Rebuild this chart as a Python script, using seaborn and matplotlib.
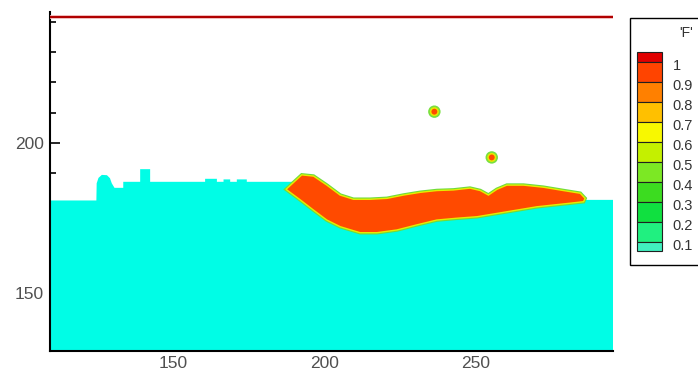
import matplotlib
matplotlib.use('Agg')
import matplotlib.pyplot as plt
import matplotlib.patheffects as pe
from matplotlib.patches import Rectangle
import seaborn as sns

sns.set_style('ticks')
plt.rcParams['font.family'] = ['Liberation Sans', 'DejaVu Sans']

# liquid surface (top of the cyan region)
surface_x = [109.3, 124.5, 124.6, 125.2, 126.3, 128.0, 129.0, 129.6, 130.5, 133.4, 133.4, 139.0, 139.0,
             142.3, 142.3, 160.5, 160.5, 164.4, 164.4, 166.6, 166.6, 168.8, 168.8, 171.0, 171.0, 174.3,
             174.3, 189.5, 191.0, 200.0, 210.0, 225.0, 240.0, 260.0, 280.0, 286.0, 295.7]
surface_y = [180.8, 180.8, 186.5, 188.3, 189.3, 189.2, 188.2, 186.5, 185.0, 185.0, 187.0, 187.0, 191.2,
             191.2, 187.0, 187.0, 188.0, 188.0, 187.0, 187.0, 187.8, 187.8, 187.0, 187.0, 187.8, 187.8,
             187.0, 187.0, 183.0, 179.0, 176.0, 176.0, 178.0, 180.0, 181.0, 181.0, 181.0]

# outline of the F~1 slug (orange blob)
blob_x = [187.3, 192.5, 196.4, 200.8, 205.2, 209.6, 215.1, 220.7, 226.2, 231.7, 237.2, 242.7, 248.2,
          251.6, 254.3, 257.1, 260.4, 265.9, 272.5, 279.1, 284.7, 286.3, 285.8, 281.4, 275.8, 270.3,
          263.7, 257.1, 250.5, 243.8, 237.2, 230.6, 224.0, 217.4, 211.8, 205.2, 200.8, 196.4, 192.0]
blob_y = [184.5, 189.3, 188.9, 185.9, 182.6, 181.2, 181.2, 181.5, 182.6, 183.5, 184.1, 184.3, 184.9,
          184.1, 182.6, 184.5, 185.9, 185.9, 185.2, 184.1, 183.2, 181.5, 180.4, 179.9, 179.3, 178.7,
          177.6, 176.5, 175.4, 174.9, 174.3, 172.7, 171.0, 170.1, 170.1, 172.1, 174.3, 177.6, 181.0]

# droplets
drop_x = [236.4, 255.4]
drop_y = [210.3, 195.1]

# lid line at the top
lid_x = [109.3, 295.7]
lid_y = [241.6, 241.6]

# contour legend of 'F'
legend_labels = ['1', '0.9', '0.8', '0.7', '0.6', '0.5', '0.4', '0.3', '0.2', '0.1']
legend_colors = ['#e00000', '#ff4400', '#ff8000', '#ffc000', '#f8f800', '#c4f000',
                 '#7ce824', '#3cdc20', '#10e040', '#20f080', '#40f0c0']

xlim = (109.3, 295.7)
ylim = (130.9, 243.4)
liquid_color = '#00fde6'
slug_color = '#ff4a00'

fig = plt.figure(figsize=(6.98, 3.76), dpi=100)
ax = fig.add_axes([0.0723, 0.0673, 0.8066, 0.9007])

# liquid region
ax.fill(surface_x + [xlim[1], xlim[0]], surface_y + [ylim[0], ylim[0]],
        color=liquid_color, lw=0, zorder=1)

# slug
ax.fill(blob_x, blob_y, facecolor=slug_color, edgecolor='#e6ec00', lw=1.0, zorder=2,
        path_effects=[pe.Stroke(linewidth=2.6, foreground='#6edc3c'), pe.Normal()])

# droplets: green ring, yellow ring, orange core
sns.scatterplot(x=drop_x, y=drop_y, s=80, color='#78e040', edgecolor='none', ax=ax, zorder=3)
sns.scatterplot(x=drop_x, y=drop_y, s=42, color='#e8e800', edgecolor='none', ax=ax, zorder=4)
sns.scatterplot(x=drop_x, y=drop_y, s=18, color=slug_color, edgecolor='none', ax=ax, zorder=5)

# lid
sns.lineplot(x=lid_x, y=lid_y, color='#b00000', lw=1.5, ax=ax, zorder=6,
             path_effects=[pe.Stroke(linewidth=2.6, foreground='#f4b8b8'), pe.Normal()])

ax.set_xlim(*xlim)
ax.set_ylim(*ylim)
ax.set_xticks([150, 200, 250])
ax.set_xticks(range(110, 300, 10), minor=True)
ax.set_yticks([150, 200])
ax.set_yticks(range(140, 250, 10), minor=True)
ax.tick_params(which='both', direction='in', width=1.2, color='black', labelcolor='#505050',
               labelsize=12.5)
ax.tick_params(which='major', length=7.5)
ax.tick_params(which='minor', length=4.5)
ax.tick_params(axis='x', pad=3.5)
ax.tick_params(axis='y', pad=5)
for side in ['top', 'right']:
    ax.spines[side].set_visible(False)
for side in ['left', 'bottom']:
    ax.spines[side].set_linewidth(1.5)
    ax.spines[side].set_color('black')
ax.set_xlabel('')
ax.set_ylabel('')

# legend drawn in pixel coordinates
lax = fig.add_axes([0, 0, 1, 1])
lax.set_xlim(0, 698)
lax.set_ylim(376, 0)
lax.axis('off')
lax.add_patch(Rectangle((630, 18), 80, 247, facecolor='white', edgecolor='black', lw=1.0))
lax.text(686, 33, "'F'", ha='center', va='center', fontsize=10, color='#333333')
edges = [51.7] + [62.3 + 20 * i for i in range(10)] + [250.7]
for i, col in enumerate(legend_colors):
    lax.add_patch(Rectangle((636.7, edges[i]), 25.6, edges[i + 1] - edges[i],
                            facecolor=col, edgecolor='#202020', lw=0.8))
for i, lab in enumerate(legend_labels):
    lax.text(672.5, edges[i + 1] + 3.5, lab, ha='left', va='center', fontsize=10.5, color='#333333')

fig.savefig('out.png', dpi=100)
